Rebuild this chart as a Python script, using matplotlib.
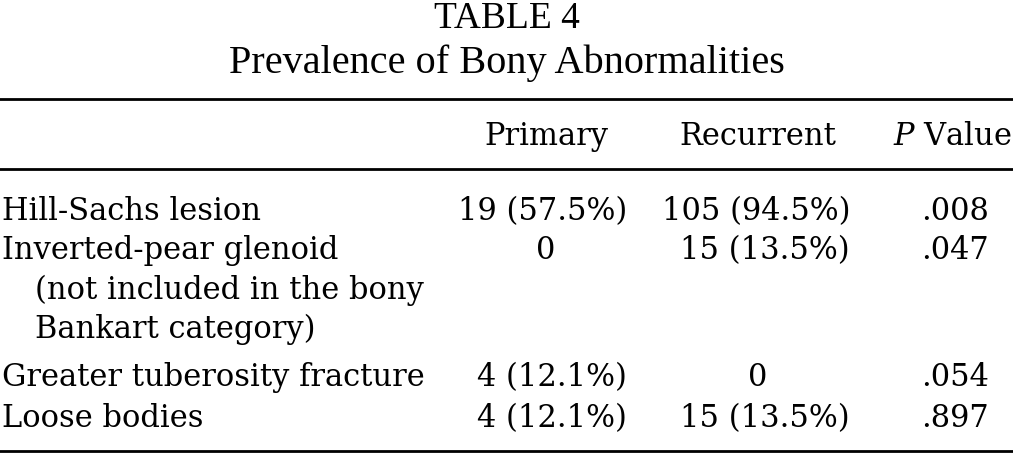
import matplotlib
matplotlib.use('agg')
import matplotlib.pyplot as plt

title_lines = ["TABLE 4", "Prevalence of Bony Abnormalities"]
col_headers = ["Primary", "Recurrent", "$\\mathit{P}$ Value"]
row_labels = ["Hill-Sachs lesion",
              "Inverted-pear glenoid",
              "(not included in the bony",
              "Bankart category)",
              "Greater tuberosity fracture",
              "Loose bodies"]
row_indent = [0, 0, 1, 1, 0, 0]
primary = ["19 (57.5%)", "0", "", "", "4 (12.1%)", "4 (12.1%)"]
recurrent = ["105 (94.5%)", "15 (13.5%)", "", "", "0", "15 (13.5%)"]
p_values = [".008", ".047", "", "", ".054", ".897"]

plt.rcParams['mathtext.fontset'] = 'dejavuserif'

W, H = 1013, 456
fig = plt.figure(figsize=(W / 100, H / 100), dpi=100)
ax = fig.add_axes([0, 0, 1, 1])
ax.set_xlim(0, W)
ax.set_ylim(H, 0)
ax.axis('off')

font = 'DejaVu Serif'
fs = 22

# title is set in a narrow face in the source
ax.text(W / 2, 28, title_lines[0], ha='center', va='baseline', fontsize=27, family='Liberation Serif')
ax.text(W / 2, 73, title_lines[1], ha='center', va='baseline', fontsize=29, family='Liberation Serif')

for y in [100, 170, 452]:
    ax.plot([0, W], [y, y], color='black', lw=2)

hy = 137
ax.text(546, hy, col_headers[0], ha='center', va='center', fontsize=fs, family=font)
ax.text(758, hy, col_headers[1], ha='center', va='center', fontsize=fs, family=font)
ax.text(1012, hy, col_headers[2], ha='right', va='center', fontsize=fs, family=font)

row_y = [212, 251, 290, 329, 378, 419]
for i, y in enumerate(row_y):
    ax.text(2 + 33 * row_indent[i], y, row_labels[i], ha='left', va='center', fontsize=fs, family=font)
    for val, xr, xc in [(primary[i], 627, 546), (recurrent[i], 850, 758)]:
        if val == "0":
            ax.text(xc, y, val, ha='center', va='center', fontsize=fs, family=font)
        elif val:
            ax.text(xr, y, val, ha='right', va='center', fontsize=fs, family=font)
    if p_values[i]:
        ax.text(955, y, p_values[i], ha='center', va='center', fontsize=fs, family=font)

fig.savefig('out.png', dpi=100)
